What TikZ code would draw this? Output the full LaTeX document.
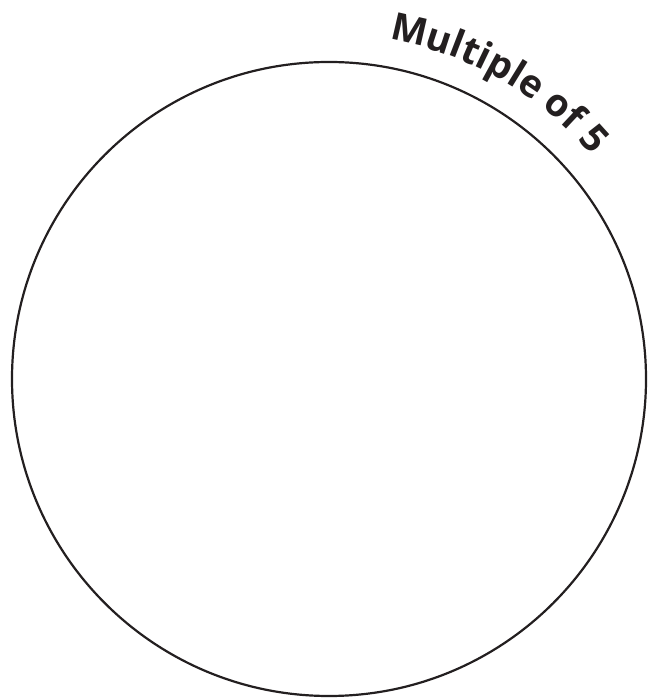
\documentclass[tikz,border=0pt]{standalone}
\usepackage{fontspec}
\setmainfont{Open Sans}
\usetikzlibrary{decorations.text}
\definecolor{ink}{HTML}{231F20}
\tikzset{
  ring/.style={draw=ink, line width=2.2pt},
  arclabel/.style={decorate, decoration={text along path,
      text format delimiters={|}{|},
      text={|\fontsize{38}{38}\selectfont\bfseries\color{ink}|Multiple of 5},
      text align={left indent=0pt}}}
}
\begin{document}
\begin{tikzpicture}[x=1pt,y=1pt]
\useasboundingbox (0,0) rectangle (656,698);
\coordinate (c) at (329,319);
\draw[ring] (c) circle[radius=317];
\path[arclabel] ([shift={(80:345)}]c) arc[start angle=80, end angle=20, radius=345];
\end{tikzpicture}
\end{document}
